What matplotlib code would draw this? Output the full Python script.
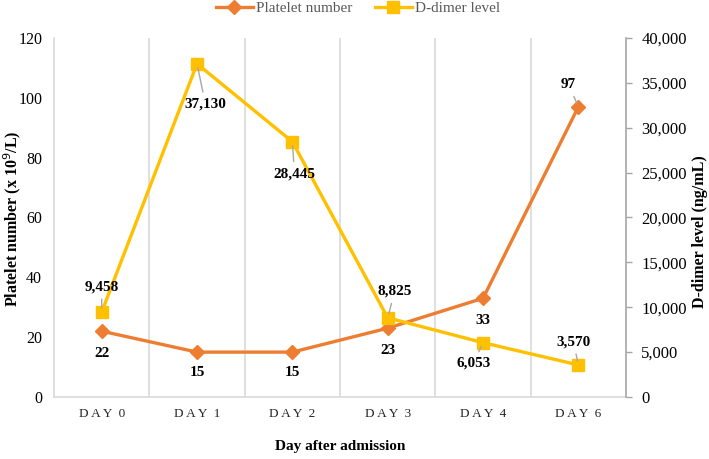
"""Platelet number and D-dimer level by day after admission"""

import matplotlib.pyplot as plt
from matplotlib.ticker import FuncFormatter, FixedLocator

days = ["DAY 0", "DAY 1", "DAY 2", "DAY 3", "DAY 4", "DAY 6"]
platelet = [22, 15, 15, 23, 33, 97]
ddimer = [9458, 37130, 28445, 8825, 6053, 3570]

plt.rcParams['font.family'] = ["Liberation Serif", "DejaVu Serif"]

orange = "#ED7D31"
yellow = "#FFC000"
grid_c = "#D9D9D9"
axis_c = "#A6A6A6"

fig = plt.figure(figsize=(7.09, 4.59), dpi=100)
ax1 = fig.add_axes([0.0762, 0.1351, 0.8068, 0.7821])
ax2 = ax1.twinx()

x = list(range(len(days)))

l1, = ax1.plot(x, platelet, color=orange, lw=2.4, marker="D", ms=7,
               label="Platelet number")
l2, = ax2.plot(x, ddimer, color=yellow, lw=2.4, marker="s", ms=8.5,
               label="D-dimer level")

# axes limits and ticks
ax1.set_xlim(-0.5, len(days) - 0.5)
ax1.set_ylim(0, 120)
ax2.set_ylim(0, 40000)
ax1.set_yticks(range(0, 121, 20))
ax2.set_yticks(range(0, 40001, 5000))
ax2.yaxis.set_major_formatter(FuncFormatter(lambda v, p: f"{int(v):,}"))

# letter-spaced category labels, e.g. "D A Y  0"
spaced = [" ".join(d.split()[0]) + "  " + d.split()[1] for d in days]
ax1.set_xticks(x)
ax1.set_xticklabels(spaced, fontsize=9.5, color="#262626")
ax1.tick_params(axis="x", length=0, pad=8)
ax1.tick_params(axis="y", length=0, labelsize=11.5, pad=8.5)
ax2.tick_params(axis="y", length=4, width=1, color=axis_c, labelsize=12, pad=7)

# vertical gridlines between categories
ax1.xaxis.set_minor_locator(FixedLocator([i + 0.5 for i in range(len(days) - 1)]))
ax1.grid(which="minor", axis="x", color=grid_c, lw=1.2)
ax1.grid(which="major", visible=False)
ax1.tick_params(axis="x", which="minor", length=0)

for ax in (ax1, ax2):
    ax.spines["top"].set_visible(False)
ax1.spines["left"].set_color(grid_c)
ax1.spines["left"].set_linewidth(1.2)
ax1.spines["bottom"].set_color(grid_c)
ax1.spines["bottom"].set_linewidth(1.2)
ax1.spines["right"].set_visible(False)
ax2.spines["left"].set_visible(False)
ax2.spines["bottom"].set_visible(False)
ax2.spines["right"].set_color(axis_c)
ax2.spines["right"].set_linewidth(1.2)

ax1.set_ylabel("Platelet number (x 10$^{9}$/L)", fontsize=11.5, fontweight="bold",
               va="center")
ax1.yaxis.set_label_coords(-0.073, 0.497)
ax2.set_ylabel("D-dimer level (ng/mL)", fontsize=11.5, fontweight="bold",
               va="center", rotation=90)
ax2.yaxis.set_label_coords(1.129, 0.46)
ax1.set_xlabel("Day after admission", fontsize=11, fontweight="bold", va="center")
ax1.xaxis.set_label_coords(0.5, -0.139)

# data labels (offsets in points)
plt_off = [(0, -16), (0, -15), (0, -15), (0, -16), (0, -16), (-7, 16)]
plt_lead = [False, False, False, False, False, True]
dd_off = [(0, 18), (6, -29), (1.5, -23), (5, 19), (-7, -15), (-3.5, 16.5)]
dd_lead = [True, True, True, True, True, True]

lead = dict(arrowstyle="-", color=axis_c, lw=1, shrinkA=2, shrinkB=3)
for xi, v, off, ld in zip(x, platelet, plt_off, plt_lead):
    ax1.annotate(f"{v}", (xi, v), xytext=off, textcoords="offset points",
                 ha="center", va="center", fontsize=11, fontweight="bold",
                 arrowprops=lead if ld else None, zorder=5)
for xi, v, off, ld in zip(x, ddimer, dd_off, dd_lead):
    ax2.annotate(f"{v:,}", (xi, v), xytext=off, textcoords="offset points",
                 ha="center", va="center", fontsize=11, fontweight="bold",
                 arrowprops=lead if ld else None, zorder=5)

leg = fig.legend(handles=[l1, l2], loc="center", bbox_to_anchor=(0.505, 1 - 8 / 459),
                 ncol=2, frameon=False, fontsize=11, handlelength=2.4,
                 columnspacing=1.5, handletextpad=0.2)
for t in leg.get_texts():
    t.set_color("#595959")

plt.savefig("out.png", dpi=100)
